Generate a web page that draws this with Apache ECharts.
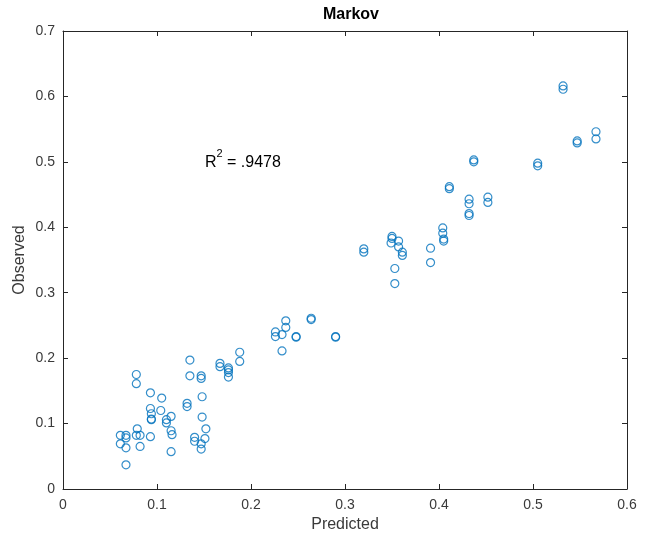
<!DOCTYPE html>
<html>
<head>
<meta charset="utf-8">
<script src="https://cdn.jsdelivr.net/npm/echarts@6/dist/echarts.min.js"></script>
<style>html,body{margin:0;padding:0;background:#fff}#c{width:652px;height:535px}</style>
</head>
<body>
<div id="c"></div>
<script>
const predicted = [
  0.061,0.067,0.067,0.061,0.067,0.067,0.078,0.078,0.079,0.078,0.082,0.082,
  0.093,0.093,0.094,0.094,0.094,0.093,0.105,0.104,0.110,0.110,0.115,0.115,0.116,0.115,
  0.135,0.135,0.132,0.132,0.147,0.147,0.148,0.148,0.152,0.140,0.140,0.151,0.147,0.147,
  0.167,0.167,0.176,0.176,0.176,0.176,0.188,0.188,
  0.226,0.226,0.233,0.233,0.237,0.237,0.248,0.248,0.264,0.264,0.290,0.290,
  0.320,0.320,0.350,0.350,0.349,0.357,0.357,0.361,0.361,0.353,0.353,
  0.391,0.391,0.404,0.404,0.405,0.405,0.411,0.411,
  0.432,0.432,0.432,0.432,0.437,0.437,0.452,0.452,
  0.505,0.505,0.532,0.532,0.547,0.547,0.567,0.567
];
const observed = [
  0.082,0.082,0.078,0.069,0.063,0.037,0.175,0.161,0.092,0.082,0.082,0.065,
  0.147,0.123,0.115,0.107,0.106,0.080,0.139,0.120,0.106,0.101,0.111,0.089,0.083,0.057,
  0.197,0.173,0.131,0.126,0.173,0.169,0.141,0.110,0.092,0.079,0.073,0.077,0.069,0.061,
  0.192,0.187,0.185,0.182,0.178,0.171,0.209,0.195,
  0.240,0.233,0.236,0.211,0.257,0.247,0.233,0.232,0.261,0.259,0.233,0.232,
  0.367,0.362,0.386,0.383,0.376,0.379,0.370,0.362,0.357,0.337,0.314,
  0.368,0.346,0.399,0.391,0.382,0.379,0.462,0.459,
  0.443,0.436,0.421,0.418,0.503,0.500,0.446,0.438,
  0.498,0.494,0.616,0.611,0.532,0.529,0.546,0.535
];
const xTicks = [0, 0.1, 0.2, 0.3, 0.4, 0.5, 0.6];
const yTicks = [0, 0.1, 0.2, 0.3, 0.4, 0.5, 0.6, 0.7];
const titleText = 'Markov';
const xLabel = 'Predicted';
const yLabel = 'Observed';
const r2Pos = [0.151, 0.503];
const r2Value = '.9478';

const points = predicted.map((p, i) => [p, observed[i]]);
const axisColor = '#262626';
const labelColor = '#3a3a3a';
const font = 'Liberation Sans, Arial, Helvetica, sans-serif';

function fmt(v) { return v === 0 ? '0' : String(+v.toFixed(1)); }

const baseAxis = {
  axisLine: { show: true, onZero: false, lineStyle: { color: axisColor, width: 1 } },
  axisTick: { show: true, inside: true, length: 5, lineStyle: { color: axisColor } },
  splitLine: { show: false },
};

const chart = echarts.init(document.getElementById('c'), null, { renderer: 'canvas' });
chart.setOption({
  animation: false,
  backgroundColor: '#ffffff',
  title: {
    text: titleText, left: 346, top: 2, textAlign: 'center',
    textStyle: { fontFamily: font, fontSize: 16, fontWeight: 'bold', color: '#000' }
  },
  grid: { left: 63, right: 25, top: 31, bottom: 46, containLabel: false, outerBoundsMode: 'none' },
  xAxis: [
    Object.assign({}, baseAxis, {
      type: 'value', min: xTicks[0], max: xTicks[xTicks.length - 1], interval: 0.1,
      position: 'bottom',
      name: xLabel, nameLocation: 'middle', nameGap: 28, nameMoveOverlap: false,
      nameTextStyle: { fontFamily: font, fontSize: 16, color: labelColor },
      axisLabel: { fontFamily: font, fontSize: 14, color: labelColor, margin: 9, formatter: fmt }
    }),
    Object.assign({}, baseAxis, {
      type: 'value', min: xTicks[0], max: xTicks[xTicks.length - 1], interval: 0.1,
      position: 'top', axisLabel: { show: false }
    })
  ],
  yAxis: [
    Object.assign({}, baseAxis, {
      type: 'value', min: yTicks[0], max: yTicks[yTicks.length - 1], interval: 0.1,
      position: 'left',
      name: yLabel, nameLocation: 'middle', nameGap: 35, nameMoveOverlap: false,
      nameTextStyle: { fontFamily: font, fontSize: 16, color: labelColor },
      axisLabel: { fontFamily: font, fontSize: 14, color: labelColor, margin: 8, formatter: fmt }
    }),
    Object.assign({}, baseAxis, {
      type: 'value', min: yTicks[0], max: yTicks[yTicks.length - 1], interval: 0.1,
      position: 'right', axisLabel: { show: false }
    })
  ],
  series: [{
    type: 'scatter',
    xAxisIndex: 0, yAxisIndex: 0,
    data: points,
    symbol: 'circle',
    symbolSize: 8,
    itemStyle: { color: 'rgba(0,0,0,0)', borderColor: '#0072BD', borderWidth: 1.2 },
    emphasis: { disabled: true }
  }]
});

const pos = chart.convertToPixel({ xAxisIndex: 0, yAxisIndex: 0 }, r2Pos);
chart.setOption({
  graphic: [{
    type: 'text', left: pos[0], top: pos[1] - 11,
    style: {
      text: '{a|R}{b|2}{a| = ' + r2Value + '}',
      rich: {
        a: { fontFamily: font, fontSize: 16, fill: '#000', lineHeight: 22, verticalAlign: 'bottom' },
        b: { fontFamily: font, fontSize: 11, fill: '#000', lineHeight: 22, verticalAlign: 'top' }
      }
    }
  }]
});
</script>
</body>
</html>
